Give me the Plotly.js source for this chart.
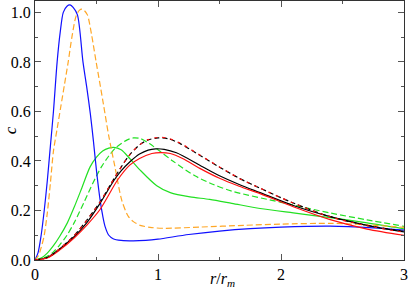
<!DOCTYPE html>
<html>
<head>
<meta charset="utf-8">
<script src="https://cdn.plot.ly/plotly-3.0.1.min.js"></script>
<style>html,body{margin:0;padding:0;background:#fff;}#chart{width:408px;height:291px;}
#chart svg text{font-family:'Liberation Serif' !important;}</style>
</head>
<body>
<div id="chart"></div>
<script>
// Blue solid
var rBlue = [0, 0.025, 0.05, 0.075, 0.1, 0.125, 0.15, 0.18, 0.205, 0.23, 0.26, 0.285, 0.31, 0.345, 0.39, 0.42, 0.45, 0.475, 0.5, 0.53, 0.55, 0.57, 0.6, 0.635, 0.7, 0.8, 0.9, 1.0, 1.25, 1.5, 1.75, 2.0, 2.4, 2.75, 3.0];
var cBlue = [0, 0.03, 0.1, 0.2, 0.32, 0.46, 0.6, 0.8, 0.92, 1.0, 1.025, 1.03, 1.02, 0.99, 0.8, 0.7, 0.59, 0.48, 0.36, 0.24, 0.18, 0.135, 0.1, 0.086, 0.079, 0.077, 0.079, 0.084, 0.103, 0.117, 0.127, 0.133, 0.137, 0.13, 0.121];
// Orange dashed
var rOrange = [0, 0.025, 0.05, 0.075, 0.1, 0.125, 0.15, 0.18, 0.21, 0.24, 0.27, 0.3, 0.334, 0.36, 0.38, 0.4, 0.426, 0.46, 0.497, 0.525, 0.556, 0.6, 0.65, 0.706, 0.76, 0.8, 0.855, 0.95, 1.06, 1.34, 1.7, 2.0, 2.4, 2.7, 3.0];
var cOrange = [0, 0.015, 0.05, 0.1, 0.19, 0.31, 0.44, 0.53, 0.62, 0.71, 0.8, 0.9, 0.985, 1.008, 1.013, 1.008, 0.99, 0.91, 0.8, 0.72, 0.63, 0.5, 0.376, 0.24, 0.175, 0.155, 0.14, 0.131, 0.128, 0.133, 0.14, 0.145, 0.148, 0.142, 0.132];
// Green solid
var rGreen = [0, 0.05, 0.1, 0.15, 0.2, 0.263, 0.32, 0.38, 0.448, 0.5, 0.55, 0.6, 0.64, 0.7, 0.77, 0.855, 0.99, 1.1, 1.26, 1.42, 1.6, 1.83, 2.1, 2.4, 2.7, 3.0];
var cGreen = [0, 0.008, 0.028, 0.058, 0.095, 0.15, 0.215, 0.29, 0.376, 0.415, 0.44, 0.452, 0.455, 0.445, 0.41, 0.363, 0.3, 0.272, 0.255, 0.245, 0.229, 0.208, 0.19, 0.171, 0.15, 0.126];
// Green dashed
var rGreenD = [0, 0.05, 0.1, 0.15, 0.2, 0.26, 0.318, 0.4, 0.47, 0.54, 0.6, 0.66, 0.75, 0.8, 0.86, 0.93, 1.0, 1.12, 1.3, 1.45, 1.6, 2.0, 2.4, 2.7, 3.0];
var cGreenD = [0, 0.004, 0.015, 0.033, 0.06, 0.1, 0.15, 0.235, 0.31, 0.376, 0.42, 0.455, 0.485, 0.493, 0.49, 0.47, 0.445, 0.4, 0.34, 0.305, 0.278, 0.233, 0.19, 0.162, 0.136];
// Black solid
var rBlack = [0, 0.1, 0.2, 0.32, 0.42, 0.53, 0.64, 0.7, 0.77, 0.85, 0.92, 0.98, 1.05, 1.15, 1.34, 1.5, 1.66, 1.83, 2.1, 2.4, 2.7, 3.0];
var cBlack = [0, 0.01, 0.045, 0.095, 0.15, 0.23, 0.32, 0.36, 0.396, 0.428, 0.444, 0.449, 0.447, 0.433, 0.383, 0.34, 0.305, 0.272, 0.22, 0.175, 0.14, 0.113];
// Black dashed
var rBlackD = [0, 0.1, 0.2, 0.32, 0.42, 0.53, 0.62, 0.7, 0.77, 0.85, 0.92, 1.0, 1.08, 1.18, 1.34, 1.5, 1.66, 1.83, 2.1, 2.4, 2.7, 3.0];
var cBlackD = [0, 0.01, 0.045, 0.1, 0.16, 0.235, 0.31, 0.375, 0.425, 0.465, 0.485, 0.493, 0.49, 0.47, 0.423, 0.375, 0.33, 0.29, 0.23, 0.175, 0.14, 0.115];
// Red solid
var rRed = [0, 0.1, 0.2, 0.32, 0.42, 0.53, 0.67, 0.77, 0.85, 0.95, 1.02, 1.1, 1.2, 1.34, 1.5, 1.66, 1.83, 2.1, 2.4, 2.7, 3.0];
var cRed = [0, 0.008, 0.04, 0.09, 0.14, 0.205, 0.322, 0.383, 0.41, 0.43, 0.434, 0.43, 0.41, 0.37, 0.33, 0.298, 0.268, 0.215, 0.163, 0.125, 0.1];
// Red dashed
var rRedD = [0, 0.1, 0.2, 0.32, 0.42, 0.53, 0.62, 0.7, 0.77, 0.85, 0.92, 1.0, 1.08, 1.18, 1.34, 1.5, 1.66, 1.83, 2.1, 2.4, 2.7, 3.0];
var cRedD = [0, 0.01, 0.045, 0.1, 0.16, 0.235, 0.31, 0.375, 0.425, 0.465, 0.486, 0.495, 0.492, 0.472, 0.424, 0.376, 0.33, 0.29, 0.23, 0.174, 0.138, 0.112];

var xTickVals = [0, 1, 2, 3];
var xTickText = ['0', '1', '2', '3'];
var yTickVals = [0, 0.2, 0.4, 0.6, 0.8, 1.0];
var yTickText = ['0.0', '0.2', '0.4', '0.6', '0.8', '1.0'];
var xTitle = '<i>r</i>/<i>r</i><sub><i>m</i></sub>';
var yTitle = '<i>c</i>';

function tr(x, y, color, dash) {
  return {x: x, y: y, type: 'scatter', mode: 'lines',
    line: {color: color, width: 1.2, dash: dash || 'solid', shape: 'spline', smoothing: 0.8},
    hoverinfo: 'skip', showlegend: false};
}

var data = [
  tr(rGreen, cGreen, '#22e022'),
  tr(rGreenD, cGreenD, '#22e022', '6px,3px'),
  tr(rBlue, cBlue, '#1010ff'),
  tr(rOrange, cOrange, '#ffa726', '6px,3px'),
  tr(rBlack, cBlack, '#000000'),
  tr(rRed, cRed, '#ff1010'),
  tr(rBlackD, cBlackD, '#000000', '5px,3px'),
  tr(rRedD, cRedD, '#ff1010', '3px,5px')
];

var tickFont = {family: 'Liberation Serif', size: 16, color: '#000'};
var layout = {
  width: 408, height: 291,
  margin: {l: 35, r: 4, t: 1, b: 31},
  paper_bgcolor: '#fff', plot_bgcolor: '#fff',
  font: {family: 'Liberation Serif', color: '#000'},
  xaxis: {
    showgrid: false, zeroline: false, showline: true, linecolor: '#333', linewidth: 1,
    mirror: 'allticks', ticks: 'inside', ticklen: 6, tickcolor: '#555', tickwidth: 1,
    tickfont: tickFont,
    range: [0, 3], tickvals: xTickVals, ticktext: xTickText,
    minor: {tickvals: [0.5, 1.5, 2.5], ticks: 'inside', ticklen: 3, tickcolor: '#555'}
  },
  yaxis: {
    showgrid: false, zeroline: false, showline: true, linecolor: '#333', linewidth: 1,
    mirror: 'allticks', ticks: 'inside', ticklen: 6, tickcolor: '#555', tickwidth: 1,
    tickfont: tickFont,
    range: [0, 1.046], tickvals: yTickVals, ticktext: yTickText,
    minor: {tickvals: [0.1, 0.3, 0.5, 0.7, 0.9], ticks: 'inside', ticklen: 3, tickcolor: '#555'}
  },
  annotations: [
    {text: xTitle, xref: 'paper', yref: 'paper', x: 0.507, y: -0.075, xanchor: 'center', yanchor: 'middle',
     showarrow: false, font: {family: 'Liberation Serif', size: 16, color: '#000'}},
    {text: yTitle, xref: 'paper', yref: 'paper', x: -0.066, y: 0.5, xanchor: 'center', yanchor: 'middle',
     textangle: -90, showarrow: false, font: {family: 'Liberation Serif', size: 17, color: '#000'}}
  ]
};

Plotly.newPlot('chart', data, layout, {staticPlot: true, displayModeBar: false});
</script>
</body>
</html>
